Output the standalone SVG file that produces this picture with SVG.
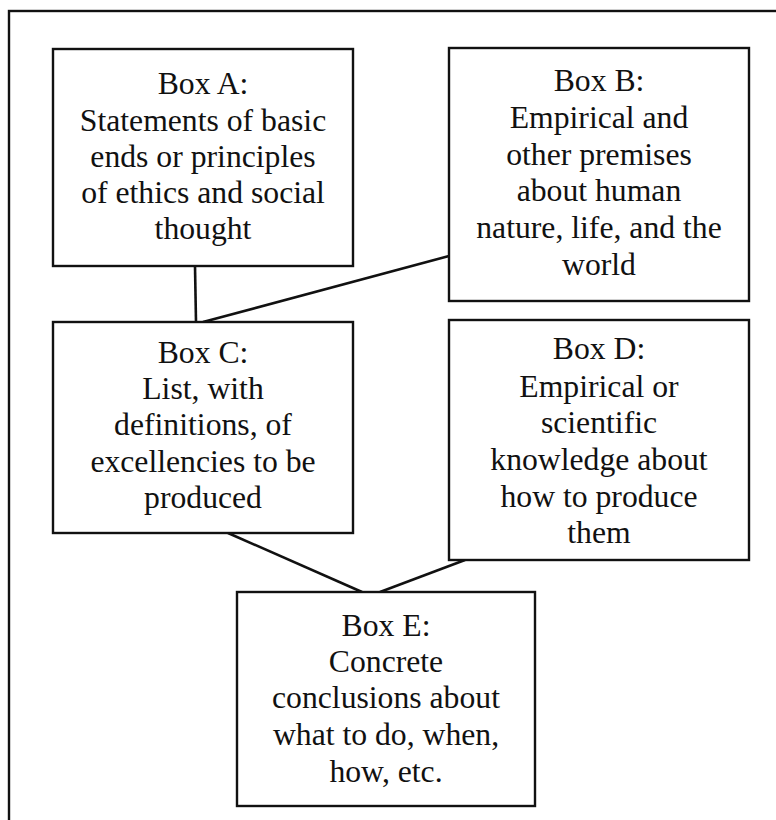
<svg xmlns="http://www.w3.org/2000/svg" width="776" height="820" viewBox="0 0 776 820">
<style>
.box{fill:#fff;stroke:#111;stroke-width:2.4}
.frame{fill:none;stroke:#111;stroke-width:2.4}
.conn line{stroke:#111;stroke-width:2.6}
text{font-family:"Liberation Serif","Times New Roman",serif;font-size:31.7px;fill:#111;text-anchor:middle}
</style>
<rect width="776" height="820" fill="#fff"/>
<rect class="frame" x="9" y="11" width="800" height="860"/>
<g id="connectors" class="conn">
<line x1="195" y1="266" x2="196" y2="322"/>
<line x1="449" y1="256" x2="203" y2="322"/>
<line x1="228" y1="533" x2="362" y2="592"/>
<line x1="465" y1="560" x2="380" y2="592"/>
</g>
<g id="boxA">
<rect class="box" x="53" y="49" width="300" height="217"/>
<text x="203" y="94">Box A:</text>
<text x="203" y="131">Statements of basic</text>
<text x="203" y="167">ends or principles</text>
<text x="203" y="203">of ethics and social</text>
<text x="203" y="239">thought</text>
</g>
<g id="boxB">
<rect class="box" x="449" y="48" width="300" height="253"/>
<text x="599" y="91">Box B:</text>
<text x="599" y="128">Empirical and</text>
<text x="599" y="165">other premises</text>
<text x="599" y="201">about human</text>
<text x="599" y="238">nature, life, and the</text>
<text x="599" y="275">world</text>
</g>
<g id="boxC">
<rect class="box" x="53" y="322" width="300" height="211"/>
<text x="203" y="363">Box C:</text>
<text x="203" y="399">List, with</text>
<text x="203" y="435">definitions, of</text>
<text x="203" y="472">excellencies to be</text>
<text x="203" y="508">produced</text>
</g>
<g id="boxD">
<rect class="box" x="449" y="320" width="300" height="240"/>
<text x="599" y="359">Box D:</text>
<text x="599" y="397">Empirical or</text>
<text x="599" y="433">scientific</text>
<text x="599" y="470">knowledge about</text>
<text x="599" y="507">how to produce</text>
<text x="599" y="543">them</text>
</g>
<g id="boxE">
<rect class="box" x="237" y="592" width="298" height="214"/>
<text x="386" y="636">Box E:</text>
<text x="386" y="672">Concrete</text>
<text x="386" y="708">conclusions about</text>
<text x="386" y="745">what to do, when,</text>
<text x="386" y="782">how, etc.</text>
</g>
</svg>
